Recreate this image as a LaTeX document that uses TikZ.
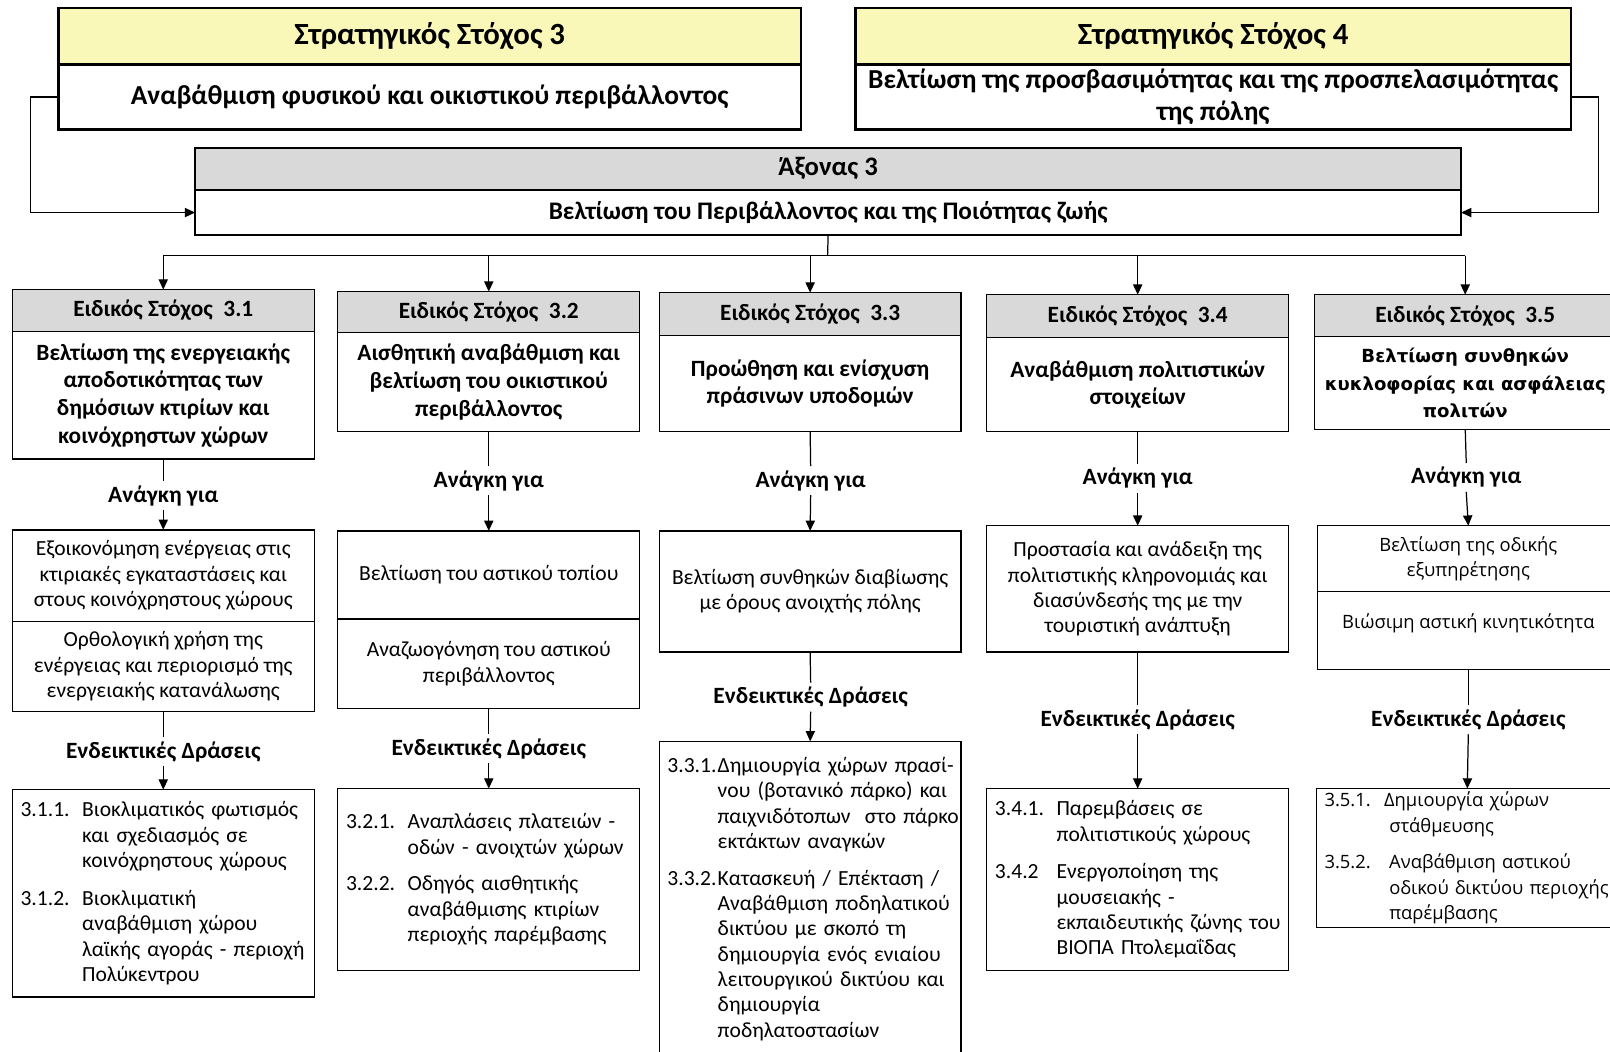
\documentclass[tikz,border=0pt]{standalone}
\usepackage{fontspec}
\setmainfont{Carlito}
\newfontfamily\dvs{DejaVu Sans}
\newfontfamily\osans{Open Sans}
\usetikzlibrary{arrows.meta,backgrounds}
\definecolor{ssyellow}{RGB}{250,248,185}
\definecolor{hdrgray}{RGB}{217,217,217}
\newcommand\fss{\bfseries\fontsize{30}{34}\selectfont}
\newcommand\fssb{\bfseries\fontsize{26.7}{31}\selectfont}
\newcommand\fax{\bfseries\fontsize{26}{30}\selectfont}
\newcommand\faxb{\bfseries\fontsize{24.6}{28}\selectfont}
\newcommand\fhd{\bfseries\fontsize{22.7}{26}\selectfont}
\newcommand\fti{\bfseries\fontsize{22.7}{27}\selectfont}
\newcommand\fbd{\fontsize{21}{24.7}\selectfont}
\newcommand\flb{\bfseries\fontsize{22.7}{26}\selectfont}
\newcommand\fdvti{\dvs\bfseries\fontsize{17.6}{26.5}\selectfont}
\newcommand\fos{\osans\fontsize{17.9}{24.7}\selectfont}
\newcommand\itm[3]{\makebox[#1pt][l]{#2}\mbox{#3}}
\newcommand\cnt[2]{\hspace*{#1pt}\mbox{#2}}
\newcommand\cutbox[2]{%
  \begin{scope}[on background layer]\fill[#2] (#1.north west) rectangle ([xshift=60pt]#1.south east);\end{scope}
  \draw[boxline] ([xshift=60pt]#1.north east) -- (#1.north west) -- (#1.south west) -- ([xshift=60pt]#1.south east);}
\tikzset{
  boxline/.style={draw=black, line width=1.3pt},
  box/.style={boxline, fill=white, inner sep=0pt, outer sep=0pt, anchor=north west, align=center, minimum width=294pt},
  topbox/.style={box, line width=2.4pt},
  axbox/.style={box, line width=1.6pt, minimum width=1233pt},
  hdr/.style={box, fill=hdrgray, font=\fhd},
  ttl/.style={box, font=\fti},
  need/.style={box, font=\fbd},
  act/.style={box, font=\fbd, align=left, text width=278pt, inner xsep=8pt, inner ysep=0pt},
  lbl/.style={font=\flb, inner sep=4pt},
  ln/.style={line width=1.2pt},
  arr/.style={ln, -{Triangle[length=10pt,width=9pt]}},
  nobox/.style={draw=none, fill=none},
}
\begin{document}
\begin{tikzpicture}[x=1pt,y=-1pt]
\useasboundingbox (0,0) rectangle (1568,1023.6);
% strategic goals
\node[topbox, fill=ssyellow, font=\fss, minimum width=723pt, minimum height=55pt] (s3h) at (57,8) {Στρατηγικός Στόχος 3};
\node[topbox, font=\fssb, minimum width=723pt, minimum height=63pt] (s3b) at (s3h.south west) {Αναβάθμιση φυσικού και οικιστικού περιβάλλοντος};
\node[topbox, fill=ssyellow, font=\fss, minimum width=697pt, minimum height=55pt] (s4h) at (833,8) {Στρατηγικός Στόχος 4};
\node[topbox, font=\fssb, minimum width=697pt, minimum height=63pt] (s4b) at (s4h.south west) {Βελτίωση της προσβασιμότητας και της προσπελασιμότητας\\της πόλης};
% axis
\node[axbox, fill=hdrgray, font=\fax, minimum height=41pt] (axh) at (190,144) {Άξονας 3};
\node[axbox, font=\faxb, minimum height=44pt] (axb) at (axh.south west) {Βελτίωση του Περιβάλλοντος και της Ποιότητας ζωής};
\draw[arr] (s3b.west) -- ++(-27,0) |- (axb.west);
\draw[arr] (s4b.east) -- ++(27,0) |- (axb.east);
% specific goals
\node[hdr, minimum height=41pt] (h1) at (12,282) {Ειδικός Στόχος\ \ 3.1};
\node[ttl, minimum height=124pt] (t1) at (h1.south west) {Βελτίωση της ενεργειακής\\αποδοτικότητας των\\δημόσιων κτιρίων και\\κοινόχρηστων χώρων};
\node[hdr, minimum height=40pt] (h2) at (329,284) {Ειδικός Στόχος\ \ 3.2};
\node[ttl, minimum height=96pt] (t2) at (h2.south west) {Αισθητική αναβάθμιση και\\βελτίωση του οικιστικού\\περιβάλλοντος};
\node[hdr, minimum height=42pt] (h3) at (642,285) {Ειδικός Στόχος\ \ 3.3};
\node[ttl, minimum height=93pt] (t3) at (h3.south west) {Προώθηση και ενίσχυση\\πράσινων υποδομών};
\node[hdr, minimum height=42pt] (h4) at (961,287) {Ειδικός Στόχος\ \ 3.4};
\node[ttl, minimum height=91pt] (t4) at (h4.south west) {Αναβάθμιση πολιτιστικών\\στοιχείων};
\node[hdr, nobox, minimum height=41pt] (h5) at (1280,287) {Ειδικός Στόχος\ \ 3.5};
\node[ttl, nobox, font=\fdvti, minimum height=90pt] (t5) at (h5.south west) {Βελτίωση συνθηκών\\κυκλοφορίας και ασφάλειας\\πολιτών};
\cutbox{h5}{hdrgray}
\cutbox{t5}{white}
% bus
\coordinate (bus) at (806,249);
\draw[ln] (axb.south) -- (bus);
\draw[ln] (h1.north |- bus) -- (h5.north |- bus);
\foreach \h in {h1,h2,h3,h4,h5} \draw[arr] (\h.north |- bus) -- (\h.north);
% need for
\node[lbl] (a1) at (159,483) {Ανάγκη για};
\node[lbl] (a2) at (476,468) {Ανάγκη για};
\node[lbl] (a3) at (789.5,468) {Ανάγκη για};
\node[lbl] (a4) at (1108,466) {Ανάγκη για};
\node[lbl] (a5) at (1428,465) {Ανάγκη για};
\node[need, minimum height=89pt] (n1a) at (12,516) {Εξοικονόμηση ενέργειας στις\\κτιριακές εγκαταστάσεις και\\στους κοινόχρηστους χώρους};
\node[need, minimum height=88pt] (n1b) at (n1a.south west) {Ορθολογική χρήση της\\ενέργειας και περιορισμό της\\ενεργειακής κατανάλωσης};
\node[need, minimum height=86pt] (n2a) at (329,517) {Βελτίωση του αστικού τοπίου};
\node[need, minimum height=87pt] (n2b) at (n2a.south west) {Αναζωογόνηση του αστικού\\περιβάλλοντος};
\node[need, minimum height=118pt] (n3) at (642,517) {Βελτίωση συνθηκών διαβίωσης\\με όρους ανοιχτής πόλης};
\node[need, minimum height=123pt] (n4) at (961,512) {Προστασία και ανάδειξη της\\πολιτιστικής κληρονομιάς και\\διασύνδεσής της με την\\τουριστική ανάπτυξη};
\node[need, nobox, font=\fos, minimum height=64pt] (n5a) at (1283,512) {Βελτίωση της οδικής\\εξυπηρέτησης};
\node[need, nobox, font=\fos, minimum height=76pt] (n5b) at (n5a.south west) {\raisebox{0pt}[\height][\dimexpr\depth+14pt]{Βιώσιμη αστική κινητικότητα}};
\cutbox{n5a}{white}
\cutbox{n5b}{white}
\foreach \i/\n in {1/n1a,2/n2a,3/n3,4/n4,5/n5a} {
  \draw[ln] (t\i.south) -- (a\i.north);
  \draw[arr] (a\i.south) -- (\n.north);
}
% indicative actions
\node[lbl] (e1) at (159,732) {Ενδεικτικές Δράσεις};
\node[lbl] (e2) at (476,729) {Ενδεικτικές Δράσεις};
\node[lbl] (e3) at (789.5,679) {Ενδεικτικές Δράσεις};
\node[lbl] (e4) at (1108,701) {Ενδεικτικές Δράσεις};
\node[lbl] (e5) at (1430,701) {Ενδεικτικές Δράσεις};
\node[act, minimum height=202pt] (d1) at (12,769) {%
\itm{60}{3.1.1.}{Βιοκλιματικός φωτισμός}\\
\cnt{60}{και σχεδιασμός σε}\\
\cnt{60}{κοινόχρηστους χώρους}\\[12pt]
\itm{60}{3.1.2.}{Βιοκλιματική}\\
\cnt{60}{αναβάθμιση χώρου}\\
\cnt{60}{λαϊκής αγοράς - περιοχή}\\
\cnt{60}{Πολύκεντρου}};
\node[act, minimum height=177pt] (d2) at (329,768) {%
\itm{60}{3.2.1.}{Αναπλάσεις πλατειών -}\\
\cnt{60}{οδών - ανοιχτών χώρων}\\[11pt]
\itm{60}{3.2.2.}{Οδηγός αισθητικής}\\
\cnt{60}{αναβάθμισης κτιρίων}\\
\cnt{60}{περιοχής παρέμβασης}};
\node[act, nobox, minimum height=307pt] (d3) at (642,722) {%
\itm{49}{3.3.1.}{Δημιουργία χώρων πρασί-}\\
\cnt{49}{νου (βοτανικό πάρκο) και}\\
\cnt{49}{παιχνιδότοπων\ \ στο πάρκο}\\
\cnt{49}{εκτάκτων αναγκών}\\[11pt]
\itm{49}{3.3.2.}{Κατασκευή / Επέκταση /}\\
\cnt{49}{Αναβάθμιση ποδηλατικού}\\
\cnt{49}{δικτύου με σκοπό τη}\\
\cnt{49}{δημιουργία ενός ενιαίου}\\
\cnt{49}{λειτουργικού δικτύου και}\\
\cnt{49}{δημιουργία}\\
\cnt{49}{ποδηλατοστασίων}};
\draw[boxline] ([yshift=-40pt]d3.south west) -- (d3.north west) -- (d3.north east) -- ([yshift=-40pt]d3.south east);
\node[act, minimum height=177pt] (d4) at (961,768) {%
\itm{60}{3.4.1.}{Παρεμβάσεις σε}\\
\cnt{60}{πολιτιστικούς χώρους}\\[12pt]
\itm{60}{3.4.2}{Ενεργοποίηση της}\\
\cnt{60}{μουσειακής -}\\
\cnt{60}{εκπαιδευτικής ζώνης του}\\
\cnt{60}{ΒΙΟΠΑ Πτολεμαΐδας}};
\node[act, nobox, font=\fos, minimum height=135pt] (d5) at (1282,768) {%
\itm{58}{3.5.1.}{Δημιουργία χώρων}\\
\cnt{63}{στάθμευσης}\\[11pt]
\itm{58}{3.5.2.}{\hspace{5pt}Αναβάθμιση αστικού}\\
\cnt{63}{οδικού δικτύου περιοχής}\\
\cnt{63}{παρέμβασης}};
\cutbox{d5}{white}
\foreach \i/\n/\d in {1/n1b/d1,2/n2b/d2,3/n3/d3,4/n4/d4,5/n5b/d5} {
  \draw[ln] (\n.south) -- (e\i.north);
  \draw[arr] (e\i.south) -- (\d.north);
}
\end{tikzpicture}
\end{document}
